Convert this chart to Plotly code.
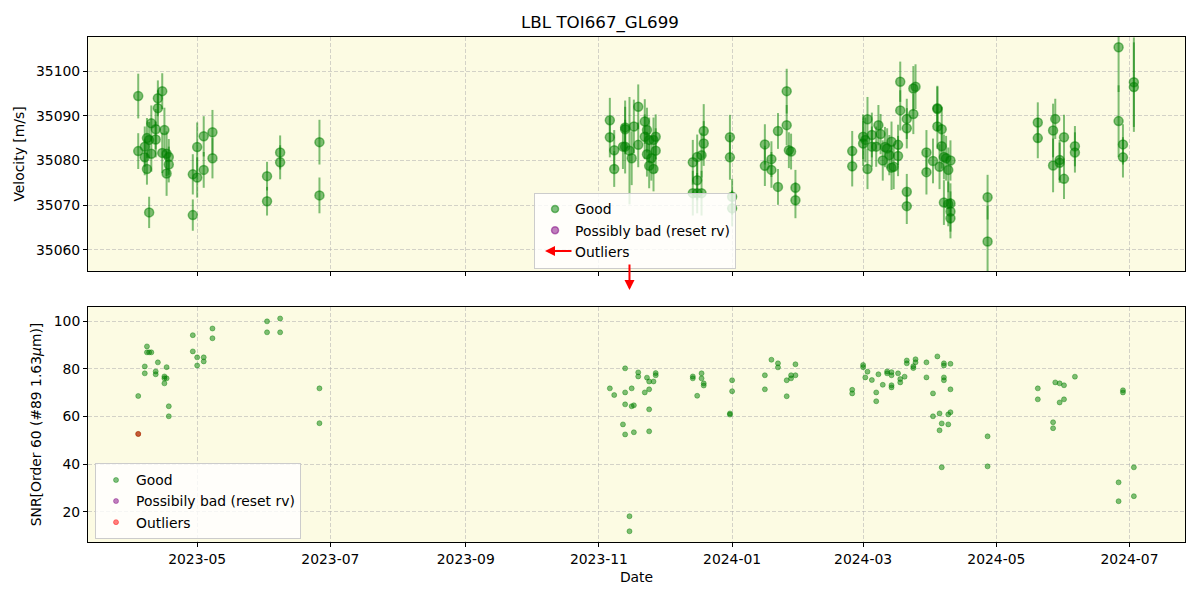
import plotly.graph_objects as go

# ---------------- data ----------------
rv_dates = [
    "2023-04-04", "2023-04-04", "2023-04-09", "2023-04-08", "2023-04-07", "2023-04-08", "2023-04-07",
    "2023-04-10", "2023-04-10", "2023-04-09", "2023-04-13", "2023-04-13", "2023-04-15", "2023-04-12",
    "2023-04-12", "2023-04-16", "2023-04-15", "2023-04-17", "2023-04-18", "2023-04-18", "2023-04-17",
    "2023-04-29", "2023-04-29", "2023-05-01", "2023-05-01", "2023-05-04", "2023-05-04", "2023-05-08",
    "2023-05-08", "2023-06-02", "2023-06-02", "2023-06-08", "2023-06-08", "2023-06-26", "2023-06-26",
    "2023-11-06", "2023-11-06", "2023-11-08", "2023-11-08", "2023-11-12", "2023-11-13", "2023-11-13",
    "2023-11-13", "2023-11-15", "2023-11-16", "2023-11-17", "2023-11-19", "2023-11-19", "2023-11-22",
    "2023-11-22", "2023-11-23", "2023-11-24", "2023-11-23", "2023-11-24", "2023-11-26", "2023-11-25",
    "2023-11-26", "2023-11-27", "2023-11-27", "2023-12-14", "2023-12-14", "2023-12-16", "2023-12-16",
    "2023-12-16", "2023-12-18", "2023-12-18", "2023-12-19", "2023-12-19", "2023-12-31", "2023-12-31",
    "2024-01-01", "2024-01-01", "2024-01-16", "2024-01-16", "2024-01-19", "2024-01-19", "2024-01-22",
    "2024-01-22", "2024-01-26", "2024-01-26", "2024-01-27", "2024-01-28", "2024-01-30", "2024-01-30",
    "2024-02-25", "2024-02-25", "2024-03-01", "2024-03-02", "2024-03-01", "2024-03-03", "2024-03-03",
    "2024-03-05", "2024-03-05", "2024-03-07", "2024-03-08", "2024-03-09", "2024-03-10", "2024-03-11",
    "2024-03-12", "2024-03-13", "2024-03-14", "2024-03-14", "2024-03-15", "2024-03-17", "2024-03-17",
    "2024-03-18", "2024-03-18", "2024-03-21", "2024-03-21", "2024-03-21", "2024-03-21", "2024-03-24",
    "2024-03-25", "2024-03-24", "2024-03-30", "2024-03-30", "2024-04-02", "2024-04-04", "2024-04-04",
    "2024-04-04", "2024-04-06", "2024-04-05", "2024-04-06", "2024-04-07", "2024-04-08", "2024-04-09",
    "2024-04-10", "2024-04-07", "2024-04-09", "2024-04-10", "2024-04-10", "2024-04-10", "2024-04-27",
    "2024-04-27", "2024-05-20", "2024-05-20", "2024-05-27", "2024-05-27", "2024-05-28", "2024-05-30",
    "2024-05-30", "2024-06-01", "2024-06-01", "2024-06-06", "2024-06-06", "2024-06-26", "2024-06-26",
    "2024-06-28", "2024-06-28", "2024-07-03", "2024-07-03",
]
rv_values = [
    35094.4, 35082.1, 35068.4, 35078.1, 35080.7, 35085.0, 35083.1,
    35088.3, 35081.5, 35084.6, 35093.9, 35091.7, 35095.5, 35087.0,
    35084.7, 35086.8, 35081.7, 35081.5, 35080.8, 35079.1, 35077.1,
    35067.8, 35076.9, 35076.2, 35083.0, 35085.4, 35077.9, 35086.3,
    35080.5, 35076.5, 35070.9, 35081.8, 35079.6, 35084.1, 35072.2,
    35089.0, 35085.2, 35082.3, 35078.1, 35083.1, 35087.4, 35083.1,
    35087.0, 35082.2, 35080.5, 35087.6, 35092.0, 35083.5, 35088.7,
    35085.3, 35086.8, 35084.6, 35081.4, 35078.8, 35078.1, 35080.5,
    35084.6, 35085.3, 35082.2, 35079.6, 35072.7, 35080.8, 35075.6,
    35072.7, 35081.2, 35072.7, 35086.6, 35083.8, 35085.2, 35080.7,
    35071.9, 35069.3, 35083.6, 35078.8, 35080.3, 35077.9, 35086.6,
    35074.1, 35095.5, 35087.9, 35082.3, 35082.0, 35073.9, 35071.1,
    35082.1, 35078.7, 35085.3, 35084.6, 35083.8, 35089.2, 35078.1,
    35085.7, 35083.1, 35083.1, 35087.9, 35085.9, 35080.0, 35083.0,
    35082.7, 35081.2, 35078.4, 35084.2, 35078.6, 35083.5, 35081.0,
    35097.6, 35091.2, 35073.0, 35069.8, 35089.3, 35087.2, 35096.1,
    35096.5, 35090.4, 35081.8, 35077.4, 35079.9, 35091.7, 35091.5,
    35087.6, 35087.0, 35078.6, 35083.2, 35080.8, 35080.5, 35077.9,
    35080.0, 35070.6, 35070.3, 35070.4, 35068.6, 35067.1, 35071.8,
    35061.9, 35088.5, 35085.0, 35086.7, 35078.9, 35089.3, 35080.1,
    35079.5, 35085.2, 35075.9, 35083.2, 35081.8, 35105.3, 35088.8,
    35083.6, 35080.7, 35097.5, 35096.4,
]
rv_errors = [
    5.0, 4.0, 3.5, 3.5, 4.0, 4.5, 4.5,
    4.0, 4.0, 4.0, 4.0, 4.0, 4.0, 4.5,
    4.0, 5.0, 4.5, 5.0, 4.0, 4.0, 5.0,
    3.5, 4.5, 4.5, 5.5, 4.5, 4.0, 5.0,
    4.5, 3.2, 3.2, 3.8, 3.8, 5.0, 4.0,
    5.0, 4.5, 4.5, 4.0, 5.0, 6.0, 6.0,
    5.0, 12.0, 6.0, 6.0, 5.0, 5.0, 5.0,
    5.0, 5.0, 5.0, 5.0, 5.0, 5.0, 5.0,
    5.0, 5.0, 5.0, 5.0, 5.0, 5.0, 4.5,
    4.5, 5.0, 5.0, 6.0, 5.0, 5.0, 5.0,
    4.0, 4.0, 4.5, 4.5, 4.0, 4.0, 4.0,
    4.0, 5.0, 4.5, 4.0, 4.0, 4.0, 4.0,
    4.5, 4.5, 5.0, 5.0, 5.0, 5.0, 4.5,
    5.0, 4.5, 4.5, 4.5, 4.5, 4.5, 4.5,
    4.5, 4.5, 5.0, 4.5, 5.0, 4.5, 4.5,
    4.5, 4.5, 4.0, 4.0, 4.5, 4.5, 5.0,
    5.0, 4.5, 5.0, 5.0, 5.0, 5.0, 5.0,
    5.0, 5.0, 5.0, 5.0, 5.0, 5.0, 5.0,
    4.5, 5.0, 5.0, 4.5, 4.5, 4.5, 5.0,
    8.0, 4.5, 4.5, 6.0, 6.0, 4.5, 4.5,
    4.5, 5.0, 4.5, 4.5, 4.5, 10.0, 8.0,
    4.5, 4.5, 10.0, 10.0,
]

snr_dates = [
    "2023-04-04", "2023-04-04", "2023-04-08", "2023-04-08", "2023-04-09", "2023-04-10", "2023-04-07",
    "2023-04-07", "2023-04-13", "2023-04-12", "2023-04-12", "2023-04-17", "2023-04-16", "2023-04-16",
    "2023-04-17", "2023-04-16", "2023-04-18", "2023-04-18", "2023-04-29", "2023-04-29", "2023-05-01",
    "2023-05-01", "2023-05-04", "2023-05-04", "2023-05-08", "2023-05-08", "2023-06-02", "2023-06-02",
    "2023-06-08", "2023-06-08", "2023-06-26", "2023-06-26",
    "2023-11-06", "2023-11-08", "2023-11-12", "2023-11-13", "2023-11-13", "2023-11-13", "2023-11-13",
    "2023-11-15", "2023-11-15", "2023-11-16", "2023-11-16", "2023-11-17", "2023-11-17", "2023-11-19",
    "2023-11-19", "2023-11-22", "2023-11-23", "2023-11-24", "2023-11-24", "2023-11-24", "2023-11-24",
    "2023-11-26", "2023-11-27", "2023-11-27",
    "2023-12-14", "2023-12-14", "2023-12-16", "2023-12-18", "2023-12-18", "2023-12-19", "2023-12-19",
    "2023-12-31", "2023-12-31", "2024-01-01", "2024-01-01", "2024-01-16", "2024-01-16", "2024-01-19",
    "2024-01-22", "2024-01-22", "2024-01-26", "2024-01-26", "2024-01-28", "2024-01-28", "2024-01-30",
    "2024-01-30",
    "2024-02-25", "2024-02-25", "2024-03-01", "2024-03-01", "2024-03-02", "2024-03-03", "2024-03-05",
    "2024-03-07", "2024-03-07", "2024-03-08", "2024-03-10", "2024-03-12", "2024-03-12", "2024-03-14",
    "2024-03-14", "2024-03-14", "2024-03-14", "2024-03-17", "2024-03-18", "2024-03-18", "2024-03-20",
    "2024-03-21", "2024-03-21", "2024-03-24", "2024-03-24", "2024-03-25", "2024-03-25", "2024-03-30",
    "2024-03-30", "2024-04-02", "2024-04-02", "2024-04-04", "2024-04-05", "2024-04-05", "2024-04-06",
    "2024-04-06", "2024-04-07", "2024-04-07", "2024-04-07", "2024-04-07", "2024-04-09", "2024-04-09",
    "2024-04-10", "2024-04-10", "2024-04-10", "2024-04-27", "2024-04-27",
    "2024-05-20", "2024-05-20", "2024-05-27", "2024-05-27", "2024-05-28", "2024-05-30", "2024-05-30",
    "2024-06-01", "2024-06-01", "2024-06-06", "2024-06-26", "2024-06-26", "2024-06-28", "2024-06-28",
    "2024-07-03", "2024-07-03",
]
snr_values = [
    68.6, 52.7, 89.4, 86.9, 86.9, 86.9, 81.0,
    78.1, 82.7, 78.9, 77.7, 80.7, 76.8, 76.0,
    76.0, 73.9, 64.3, 60.1, 94.1, 87.3, 84.8,
    81.4, 84.8, 83.1, 96.9, 92.8, 99.9, 95.3,
    101.1, 95.3, 71.8, 57.2,
    71.8, 69.0, 56.7, 70.1, 65.1, 80.2, 52.5,
    18.2, 11.9, 71.8, 64.3, 64.7, 53.4, 78.5,
    76.8, 70.1, 76.3, 63.0, 53.8, 71.4, 74.7,
    74.7, 77.3, 78.2,
    76.8, 76.0, 68.7, 78.1, 76.0, 73.9, 73.0,
    60.8, 61.3, 75.2, 70.6, 77.3, 71.4, 83.8,
    82.3, 80.6, 75.2, 68.5, 77.3, 76.0, 81.9,
    77.3,
    71.2, 69.7, 81.6, 80.7, 76.4, 78.8, 75.3,
    70.1, 66.4, 77.7, 73.3, 78.9, 78.1, 73.1,
    72.2, 78.6, 77.3, 78.1, 75.7, 74.3, 76.7,
    82.3, 83.5, 81.1, 80.3, 82.7, 84.0, 82.7,
    76.4, 69.7, 60.1, 85.2, 61.3, 54.2, 57.1,
    38.7, 76.4, 75.2, 82.3, 81.4, 60.9, 56.7,
    82.1, 71.4, 61.8, 51.7, 39.1,
    71.8, 67.2, 57.6, 55.1, 74.3, 73.9, 65.9,
    73.1, 67.2, 76.7, 32.4, 24.5, 71.0, 70.1,
    38.7, 26.6,
]

outlier_snr_dates = ["2023-04-04"]
outlier_snr_values = [52.7]
outlier_rv_date = "2023-11-15"

x_range = ["2023-03-12", "2024-07-26 10:00"]
rv_range = [35055.3, 35107.6]
snr_range = [7.4, 105.9]

# ---------------- figure ----------------
GREEN = "rgba(0,128,0,0.5)"
PURPLE = "rgba(128,0,128,0.5)"
RED = "rgba(255,0,0,0.5)"
FONT = "DejaVu Sans"
FS = 13.9

fig = go.Figure()

fig.add_trace(go.Scatter(
    x=rv_dates, y=rv_values, mode="markers", name="Good", showlegend=False,
    error_y=dict(type="data", array=rv_errors, visible=True, color=GREEN, thickness=2, width=0),
    marker=dict(size=9, color=GREEN, line=dict(color=GREEN, width=1.5)),
    xaxis="x", yaxis="y",
))
# legend entries for top panel
fig.add_trace(go.Scatter(
    x=[None], y=[None], mode="markers", name="Good",
    marker=dict(size=7, color=GREEN, line=dict(color=GREEN, width=1.5)),
    xaxis="x", yaxis="y", legend="legend",
))
fig.add_trace(go.Scatter(
    x=[None], y=[None], mode="markers", name="Possibly bad (reset rv)",
    marker=dict(size=7, color=PURPLE, line=dict(color=PURPLE, width=1.5)),
    xaxis="x", yaxis="y", legend="legend",
))
fig.add_trace(go.Scatter(
    x=[None], y=[None], mode="lines", name="Outliers",
    line=dict(color="rgba(0,0,0,0)", width=2),
    xaxis="x", yaxis="y", legend="legend",
))

fig.add_trace(go.Scatter(
    x=snr_dates, y=snr_values, mode="markers", name="Good",
    marker=dict(size=5, color=GREEN, line=dict(color=GREEN, width=0.8)),
    xaxis="x2", yaxis="y2", legend="legend2",
))
fig.add_trace(go.Scatter(
    x=[None], y=[None], mode="markers", name="Possibily bad (reset rv)",
    marker=dict(size=5, color=PURPLE, line=dict(color=PURPLE, width=0.8)),
    xaxis="x2", yaxis="y2", legend="legend2",
))
fig.add_trace(go.Scatter(
    x=outlier_snr_dates, y=outlier_snr_values, mode="markers", name="Outliers",
    marker=dict(size=5, color=RED, line=dict(color=RED, width=0.8)),
    xaxis="x2", yaxis="y2", legend="legend2",
))

axis_common = dict(
    showline=True, mirror=True, linecolor="black", linewidth=1,
    ticks="outside", ticklen=4, tickcolor="black", automargin=False,
    showgrid=True, gridcolor="rgba(176,176,176,0.55)", griddash="4px,2px", gridwidth=1,
    zeroline=False, tickfont=dict(family=FONT, size=FS, color="black"),
)

fig.update_layout(
    width=1200, height=600,
    margin=dict(l=88, r=15, t=37, b=58),
    paper_bgcolor="white", plot_bgcolor="#fcfbe3",
    font=dict(family=FONT, size=FS, color="black"),
    title=dict(text="LBL TOI667_GL699", x=0.5, xanchor="center", y=0.963, yanchor="middle",
               font=dict(family=FONT, size=16.7, color="black")),
    xaxis=dict(domain=[0, 1], anchor="y", range=x_range, type="date",
               tick0="2023-05-01", dtick="M2", tickformat="%Y-%m", showticklabels=False,
               **axis_common),
    yaxis=dict(domain=[0.5366, 1], anchor="x", range=rv_range, dtick=10, tick0=35060,
               tickformat="d",
               title=dict(text="Velocity [m/s]", font=dict(family=FONT, size=FS), standoff=8),
               **axis_common),
    xaxis2=dict(domain=[0, 1], anchor="y2", range=x_range, type="date", matches="x",
                tick0="2023-05-01", dtick="M2", tickformat="%Y-%m",
                title=dict(text="Date", font=dict(family=FONT, size=FS), standoff=6),
                **axis_common),
    yaxis2=dict(domain=[0, 0.4653], anchor="x2", range=snr_range, dtick=20, tick0=20,
                title=dict(text="SNR[Order 60 (#89 1.63<i>μ</i>m)]", font=dict(family=FONT, size=FS), standoff=8),
                **axis_common),
    legend=dict(x=0.4066, y=0.692, xanchor="left", yanchor="top",
                bgcolor="rgba(255,255,255,0.8)", bordercolor="#cccccc", borderwidth=1,
                font=dict(family=FONT, size=FS)),
    legend2=dict(x=0.0064, y=0.1555, xanchor="left", yanchor="top",
                 bgcolor="rgba(255,255,255,0.8)", bordercolor="#cccccc", borderwidth=1,
                 font=dict(family=FONT, size=FS)),
    showlegend=True,
)

# outlier arrow below top panel (value out of range)
fig.add_annotation(
    x=outlier_rv_date, y=(542 - 290) / 505, xref="x", yref="paper",
    ax=0, ay=-27, showarrow=True, arrowhead=2, arrowsize=1, arrowwidth=2,
    arrowcolor="red", text="",
)
# outlier symbol inside top legend
fig.add_annotation(
    x=(545 - 88) / 1097, y=(542 - 251) / 505, xref="paper", yref="paper",
    ax=28, ay=0, showarrow=True, arrowhead=2, arrowsize=1, arrowwidth=2,
    arrowcolor="red", text="",
)

fig.write_html("out.html", config={"displayModeBar": False},
               post_script="document.body.style.margin='0';document.body.style.padding='0';")
